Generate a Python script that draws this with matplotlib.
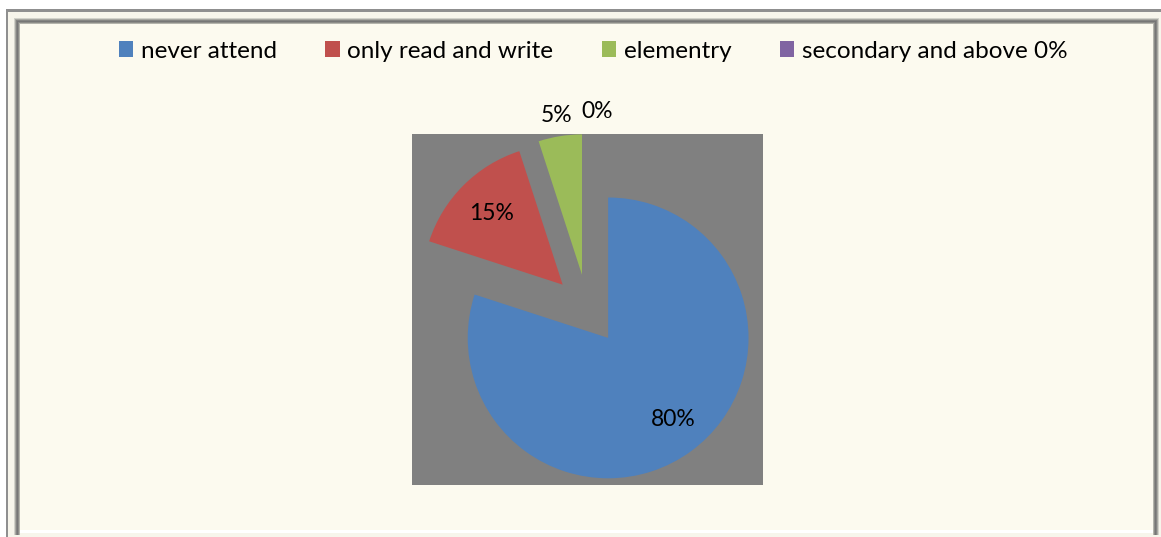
import matplotlib
matplotlib.use("Agg")
import matplotlib.pyplot as plt
from matplotlib.patches import Rectangle
import numpy as np

# ---- data ----
categories = ["never attend", "only read and write", "elementry", "secondary and above 0%"]
values = [80, 15, 5, 0]
colors = ["#4F81BD", "#C0504D", "#9BBB59", "#8064A2"]

# ---- styling ----
W, H = 1161, 537
plt.rcParams["font.family"] = ["Lato", "DejaVu Sans"]
LEGEND_SIZE = 17.5
LABEL_SIZE = 16.5
explode = [0.25] * len(values)
label_dist = [0.74, 0.72, 1.15, 1.16]
label_nudge = [(0.03, 0.02), (0, 0), (0, 0), (0.065, 0)]

fig = plt.figure(figsize=(W / 100, H / 100), dpi=100, facecolor="white")

# ---- frame drawn in pixel coordinates ----
bg = fig.add_axes([0, 0, 1, 1], zorder=0)
bg.set_xlim(0, W)
bg.set_ylim(H, 0)
bg.axis("off")

def box(x0, y0, x1, y1, c):
    bg.add_patch(Rectangle((x0, y0), x1 - x0, y1 - y0, facecolor=c,
                           edgecolor="none", antialiased=False))

# outer thin line
box(6, 9, W + 5, 12, "#8f8f8f")
box(6, 9, 8, H + 5, "#8f8f8f")
# light band between outer line and bevel
box(8, 12, W + 5, H + 5, "#f7f5eb")
# bevel, from outside to inside
bevel = ["#d2d2ca", "#a8a8a2", "#858583", "#767676", "#8c8c88", "#b4b4ac"]
for i, c in enumerate(bevel):
    box(14 + i, 18 + i, 1159 - i, 19 + i, c)     # top
    box(14 + i, 18 + i, 15 + i, 535, c)           # left
    box(1158 - i, 18 + i, 1159 - i, 535, c)       # right
# inner cream panel
box(20, 24, 1153, 530, "#fcfaef")
box(20, 530, 1153, 533, "#ffffff")

# ---- pie plot area ----
ax = fig.add_axes([412 / W, 1 - 485 / H, 351 / W, 351 / H], zorder=1)

wedges, _ = ax.pie(values, colors=colors, explode=explode, startangle=90,
                   counterclock=False, radius=1.0,
                   wedgeprops=dict(linewidth=0))
ax.set_frame_on(True)
ax.patch.set_visible(True)
ax.set_facecolor("#808080")
for s in ax.spines.values():
    s.set_visible(False)
ax.set_xticks([])
ax.set_yticks([])
ax.set_xlim(-1.25, 1.25)
ax.set_ylim(-1.25, 1.25)
ax.set_aspect("equal")

# percentage labels placed along each wedge's bisector
for w, v, d, (nx, ny) in zip(wedges, values, label_dist, label_nudge):
    ang = np.deg2rad((w.theta1 + w.theta2) / 2)
    cx, cy = w.center
    x = cx + d * np.cos(ang) + nx
    y = cy + d * np.sin(ang) + ny
    ax.text(x, y, f"{v:.0f}%", ha="center", va="center", fontsize=LABEL_SIZE,
            color="black", clip_on=False)

# ---- legend ----
leg = fig.legend(wedges, categories, loc="center", ncol=4,
                 bbox_to_anchor=(593 / W, 1 - 51 / H), frameon=False,
                 fontsize=LEGEND_SIZE, handlelength=0.6, handleheight=0.6,
                 handletextpad=0.3, columnspacing=2.0, borderaxespad=0)

fig.savefig("out.png", dpi=100, facecolor="white")
